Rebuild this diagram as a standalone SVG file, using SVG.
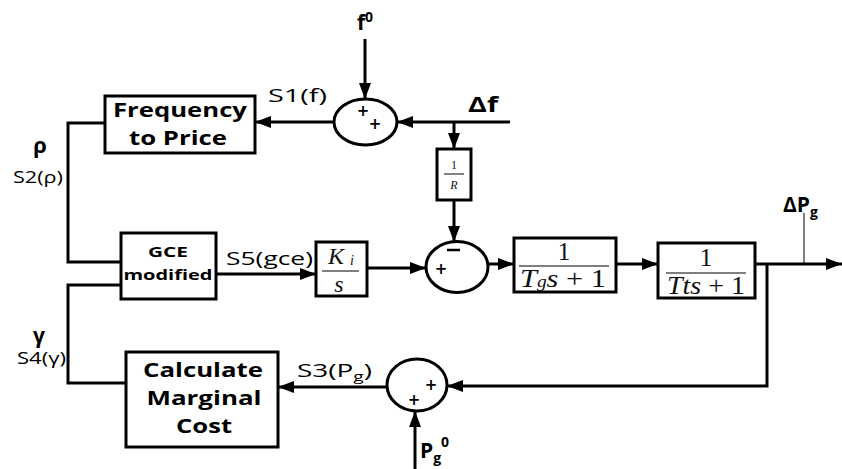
<svg xmlns="http://www.w3.org/2000/svg" width="842" height="469" viewBox="0 0 842 469">
<defs>
<marker id="ah" viewBox="0 0 16 12" refX="16" refY="6" markerWidth="16" markerHeight="12" markerUnits="userSpaceOnUse" orient="auto">
<path d="M0,0 L16,6 L0,12 Z" fill="#000"/>
</marker>
<style>
.box{fill:#fff;stroke:#000;stroke-width:3}
.sum{fill:#fff;stroke:#000;stroke-width:3}
.ln{fill:none;stroke:#000;stroke-width:3}
.ar{fill:none;stroke:#000;stroke-width:3;marker-end:url(#ah)}
.bt{font-family:"Open Sans","DejaVu Sans",sans-serif;font-weight:bold;fill:#000;text-anchor:middle}
.lb{font-family:"Open Sans","DejaVu Sans",sans-serif;fill:#000}
.mt{font-family:"Liberation Serif","Times New Roman",serif;fill:#111;text-anchor:middle}
.sg{font-family:"DejaVu Sans",sans-serif;font-weight:bold;fill:#000;text-anchor:middle;font-size:15px}
</style>
</defs>

<g id="connectors">
<line class="ar" x1="365" y1="39" x2="365" y2="99"/>
<line class="ar" x1="510" y1="122" x2="397" y2="122"/>
<line class="ar" x1="334" y1="122" x2="255" y2="122"/>
<line class="ar" x1="454" y1="122" x2="454" y2="149"/>
<line class="ar" x1="454" y1="200" x2="454" y2="242"/>
<polyline class="ln" points="105,123 68,123 68,262 121,262"/>
<polyline class="ln" points="121,285 68,285 68,383 126,383"/>
<line class="ar" x1="216" y1="274" x2="316" y2="274"/>
<line class="ar" x1="367" y1="268" x2="426" y2="268"/>
<line class="ar" x1="488" y1="264" x2="514" y2="264"/>
<line class="ar" x1="616" y1="264" x2="658" y2="264"/>
<line class="ar" x1="755" y1="264" x2="842" y2="264"/>
<line stroke="#000" stroke-width="1" x1="804" y1="213" x2="804" y2="264"/>
<polyline class="ar" points="767,264 767,386 447,386"/>
<line class="ar" x1="387" y1="387" x2="278" y2="387"/>
<line class="ar" x1="415" y1="469" x2="415" y2="411"/>
</g>

<g id="freq-to-price">
<rect class="box" x="105" y="96" width="150" height="57"/>
<text class="bt" x="180" y="117" font-size="19" textLength="134" lengthAdjust="spacingAndGlyphs">Frequency</text>
<text class="bt" x="178" y="145" font-size="19" textLength="98" lengthAdjust="spacingAndGlyphs">to Price</text>
</g>

<g id="sum1">
<ellipse class="sum" cx="365.5" cy="122" rx="31.5" ry="23"/>
<text class="sg" x="363" y="116">+</text>
<text class="sg" x="375" y="129">+</text>
</g>

<g id="one-over-r">
<rect class="box" x="437" y="149" width="34" height="51"/>
<text class="mt" x="454" y="169" font-size="12">1</text>
<line stroke="#000" stroke-width="1" x1="444" y1="174" x2="464" y2="174"/>
<text class="mt" x="454" y="189" font-size="12" font-style="italic">R</text>
</g>

<g id="gce">
<rect class="box" x="121" y="233" width="95" height="66"/>
<text class="bt" x="168" y="257" font-size="14" textLength="40" lengthAdjust="spacingAndGlyphs">GCE</text>
<text class="bt" x="168" y="280" font-size="14" textLength="89" lengthAdjust="spacingAndGlyphs">modified</text>
</g>

<g id="ki-s">
<rect class="box" x="316" y="242" width="51" height="54"/>
<text class="mt" x="336" y="264" font-size="24" font-style="italic">K</text>
<text class="mt" x="352" y="265" font-size="14" font-style="italic">i</text>
<line stroke="#000" stroke-width="1.2" x1="322" y1="271" x2="359" y2="271"/>
<text class="mt" x="339" y="292" font-size="24" font-style="italic">s</text>
</g>

<g id="sum2">
<ellipse class="sum" cx="457" cy="267" rx="31" ry="25.5"/>
<line stroke="#000" stroke-width="2.5" x1="447" y1="250" x2="460" y2="250"/>
<text class="sg" x="441" y="274">+</text>
</g>

<g id="tg-block">
<rect class="box" x="514" y="238" width="102" height="54"/>
<text class="mt" x="564" y="260" font-size="25">1</text>
<line stroke="#000" stroke-width="1.2" x1="519" y1="266" x2="609" y2="266"/>
<text class="mt" x="563" y="287" font-size="25" textLength="86" lengthAdjust="spacingAndGlyphs"><tspan font-style="italic">T</tspan><tspan font-style="italic" font-size="16">g</tspan><tspan font-style="italic">s</tspan> + 1</text>
</g>

<g id="tt-block">
<rect class="box" x="658" y="243" width="97" height="55"/>
<text class="mt" x="706" y="266" font-size="25">1</text>
<line stroke="#000" stroke-width="1.2" x1="666" y1="273" x2="746" y2="273"/>
<text class="mt" x="706" y="294" font-size="25" font-style="italic" textLength="78" lengthAdjust="spacingAndGlyphs">Tts<tspan font-style="normal"> + 1</tspan></text>
</g>

<g id="calc-marginal">
<rect class="box" x="126" y="352" width="152" height="95"/>
<text class="bt" x="203" y="377" font-size="19" textLength="120" lengthAdjust="spacingAndGlyphs">Calculate</text>
<text class="bt" x="204" y="405" font-size="19" textLength="115" lengthAdjust="spacingAndGlyphs">Marginal</text>
<text class="bt" x="204" y="433" font-size="19" textLength="56" lengthAdjust="spacingAndGlyphs">Cost</text>
</g>

<g id="sum3">
<ellipse class="sum" cx="417" cy="385" rx="30" ry="26"/>
<text class="sg" x="431" y="390">+</text>
<text class="sg" x="414" y="405">+</text>
</g>

<g id="labels">
<text class="bt" x="365" y="30" font-size="21">f<tspan font-size="14" dy="-8">0</tspan></text>
<text class="lb" x="268" y="102" font-size="19" textLength="59" lengthAdjust="spacingAndGlyphs">S1(f)</text>
<text class="bt" x="468" y="112" font-size="21" style="text-anchor:start" textLength="30" lengthAdjust="spacingAndGlyphs">Δf</text>
<text class="bt" x="40" y="153" font-size="22">ρ</text>
<text class="lb" x="13" y="183" font-size="16" textLength="50" lengthAdjust="spacingAndGlyphs">S2(ρ)</text>
<text class="lb" x="226" y="265" font-size="19" textLength="87" lengthAdjust="spacingAndGlyphs">S5(gce)</text>
<text class="bt" x="39" y="343" font-size="21">γ</text>
<text class="lb" x="17" y="364" font-size="16" textLength="49" lengthAdjust="spacingAndGlyphs">S4(γ)</text>
<text class="lb" x="297" y="377" font-size="19" textLength="75" lengthAdjust="spacingAndGlyphs">S3(P<tspan font-size="13" dy="4">g</tspan><tspan dy="-4">)</tspan></text>
<text class="bt" x="783" y="212" font-size="21" style="text-anchor:start">ΔP<tspan font-size="14" dy="5">g</tspan></text>
<text class="bt" x="420" y="458" font-size="21" style="text-anchor:start">P<tspan font-size="14" dy="5">g</tspan><tspan font-size="14" dy="-16">0</tspan></text>
</g>
</svg>
